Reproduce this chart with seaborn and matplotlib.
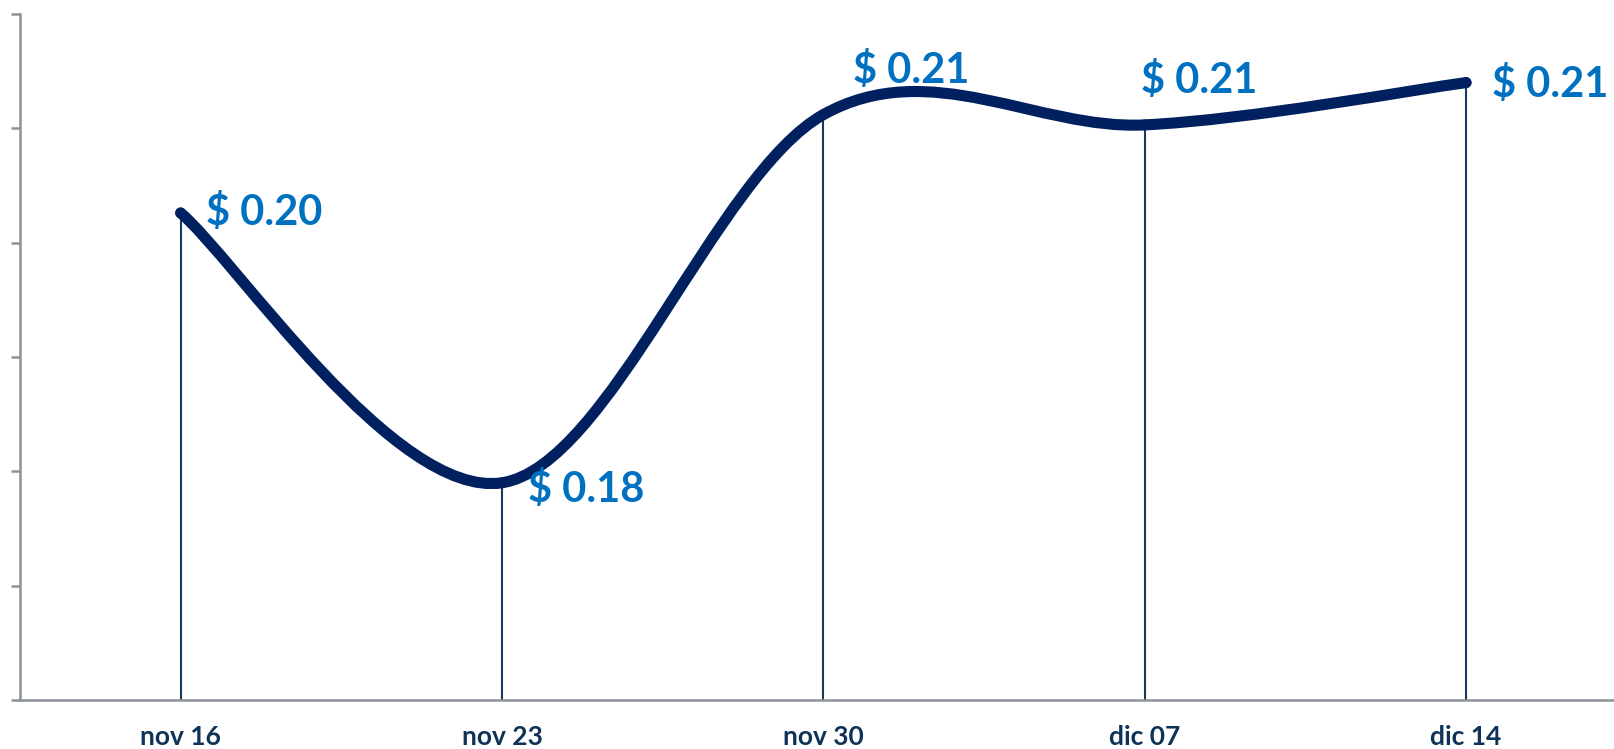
import numpy as np
import pandas as pd
import seaborn as sns
import matplotlib.pyplot as plt
from matplotlib.path import Path
from matplotlib.patches import PathPatch

# weekly price values
dates = ['nov 16', 'nov 23', 'nov 30', 'dic 07', 'dic 14']
prices = [0.2026, 0.1790, 0.2112, 0.2103, 0.2140]
price_labels = ['$ 0.20', '$ 0.18', '$ 0.21', '$ 0.21', '$ 0.21']
y_ticks = [0.16, 0.17, 0.18, 0.19, 0.20, 0.21, 0.22]

line_col = '#002060'
label_col = '#0070C0'
tick_col = '#0E3358'
axis_col = '#8C919A'

sns.set_theme(style='white')
plt.rcParams['font.family'] = ['Lato', 'DejaVu Sans']

df = pd.DataFrame({'pos': np.arange(len(dates)), 'price': prices})

fig = plt.figure(figsize=(16.14, 7.49), dpi=100)
ax = fig.add_axes([20 / 1614, 49 / 749, 1594 / 1614, 686 / 749])

# drop lines from each point to the axis
ax.vlines(df['pos'], 0.16, df['price'], color='#183A5E', lw=1.5, zorder=2)

# smoothed line (bezier, like the spreadsheet "smoothed line" option)
pts = df[['pos', 'price']].to_numpy()
ext = np.vstack([pts[0], pts, pts[-1]])
verts = [tuple(pts[0])]
codes = [Path.MOVETO]
for i in range(len(pts) - 1):
    p0, p1, p2, p3 = ext[i], ext[i + 1], ext[i + 2], ext[i + 3]
    c1 = p1 + (p2 - p0) / 6
    c2 = p2 - (p3 - p1) / 6
    verts += [tuple(c1), tuple(c2), tuple(p2)]
    codes += [Path.CURVE4] * 3
curve = PathPatch(Path(verts, codes), fill=False, edgecolor=line_col, lw=8,
                  capstyle='round', joinstyle='round', zorder=3)
ax.add_patch(curve)

sns.scatterplot(data=df, x='pos', y='price', s=60, color=line_col,
                edgecolor='none', zorder=4, ax=ax, legend=False)

offsets = [(25, 0), (26, -7), (30, 44), (-4, 44), (26, -2)]
for x, y, lab, off in zip(df['pos'], df['price'], price_labels, offsets):
    ax.annotate(lab, (x, y), xytext=off, textcoords='offset pixels',
                ha='left', va='center', fontsize=30, fontweight='bold',
                color=label_col, zorder=5)

ax.set_xlim(-0.5, (1614 - 180) / 321.5)
ax.set_ylim(0.16, 0.22)
ax.set_xticks(df['pos'])
ax.set_xticklabels(dates, fontsize=19, fontweight='bold', color=tick_col)
ax.set_yticks(y_ticks)
ax.set_yticklabels([])
ax.set_xlabel('')
ax.set_ylabel('')
ax.tick_params(axis='x', length=0, pad=18)
ax.tick_params(axis='y', left=True, length=6.5, width=1.8, color=axis_col,
               direction='out')

sns.despine(ax=ax, top=True, right=True)
for s in ['left', 'bottom']:
    ax.spines[s].set_color(axis_col)
    ax.spines[s].set_linewidth(1.8)
    ax.spines[s].set_visible(True)

fig.savefig('out.png', dpi=100)
